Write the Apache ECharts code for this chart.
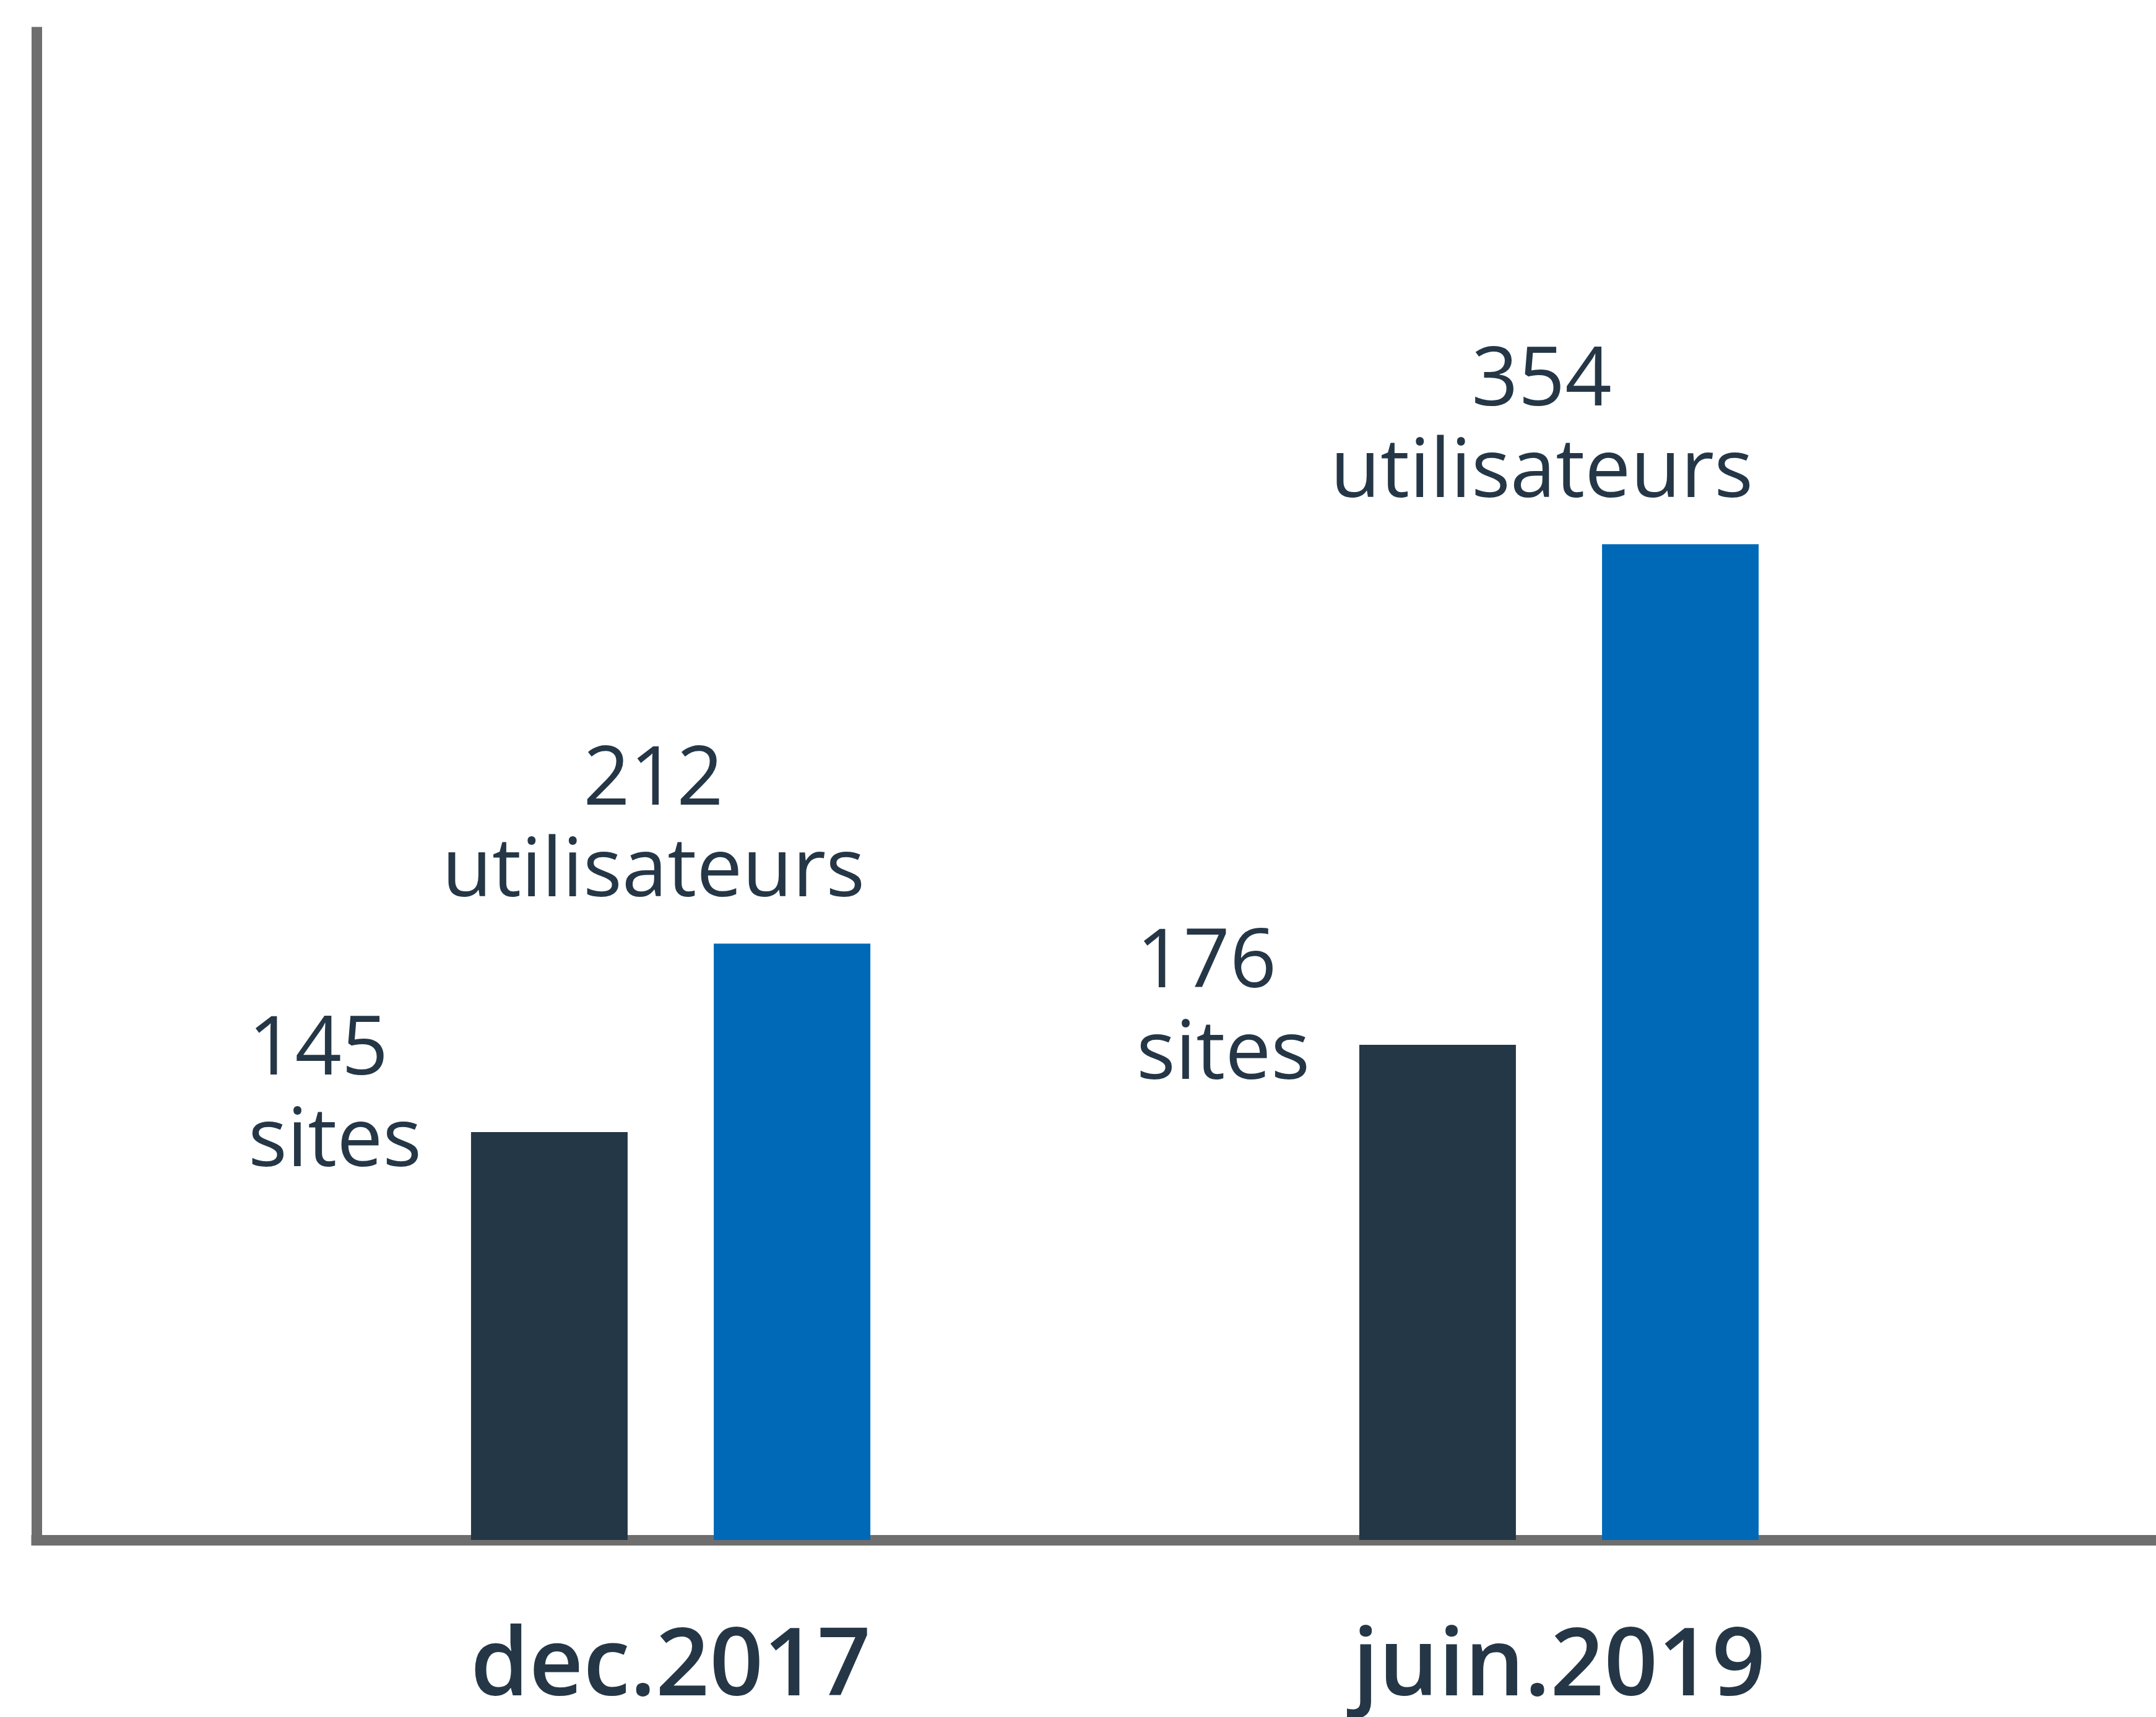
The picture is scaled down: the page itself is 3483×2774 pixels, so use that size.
<!DOCTYPE html>
<html>
<head>
<meta charset="utf-8">
<script src="https://cdn.jsdelivr.net/npm/echarts@6/dist/echarts.min.js"></script>
<style>
    html, body { margin: 0; padding: 0; background: #ffffff; }
    #chart { width: 3483px; height: 2774px; }
</style>
</head>
<body>
<div id="chart"></div>
<script>
var periods = ['dec.2017', 'juin.2019'];
var sites = [145, 176];
var users = [212, 354];

var textColor = '#253746';
var font = "'Open Sans', sans-serif";

var myChart = echarts.init(document.getElementById('chart'));
var option = {
    backgroundColor: '#ffffff',
    animation: false,
    grid: [
        {left: 366, right: 247, top: 52, bottom: 286},   // barres
        {left: 59, right: 0, top: 52, bottom: 286}       // axes gris
    ],
    xAxis: [
        {
            type: 'category',
            gridIndex: 0,
            data: periods,
            axisLine: {show: false},
            axisTick: {show: false},
            axisLabel: {
                margin: 133,
                color: textColor,
                fontFamily: font,
                fontWeight: 600,
                fontSize: 152,
                lineHeight: 150
            }
        },
        {
            type: 'value',
            gridIndex: 1,
            min: 0,
            max: 1,
            axisLine: {show: true, lineStyle: {color: '#6e6e6e', width: 17, cap: 'square'}},
            axisTick: {show: false},
            axisLabel: {show: false},
            splitLine: {show: false}
        }
    ],
    yAxis: [
        {
            type: 'value',
            gridIndex: 0,
            min: 0,
            max: 536,
            show: false
        },
        {
            type: 'value',
            gridIndex: 1,
            min: 0,
            max: 1,
            axisLine: {show: true, lineStyle: {color: '#6e6e6e', width: 17, cap: 'square'}},
            axisTick: {show: false},
            axisLabel: {show: false},
            splitLine: {show: false}
        }
    ],
    series: [
        {
            name: 'sites',
            type: 'bar',
            xAxisIndex: 0,
            yAxisIndex: 0,
            data: sites,
            barWidth: 253,
            barGap: '55%',
            itemStyle: {color: '#243746'},
            label: {
                show: true,
                position: [-360, -205],
                align: 'left',
                verticalAlign: 'top',
                formatter: '{c}\nsites',
                color: textColor,
                fontFamily: font,
                fontSize: 132,
                lineHeight: 148
            }
        },
        {
            name: 'utilisateurs',
            type: 'bar',
            xAxisIndex: 0,
            yAxisIndex: 0,
            data: users,
            barWidth: 253,
            itemStyle: {color: '#0069b7'},
            label: {
                show: true,
                position: 'top',
                distance: 40,
                offset: [-224, 0],
                align: 'center',
                formatter: '{c}\nutilisateurs',
                color: textColor,
                fontFamily: font,
                fontSize: 132,
                lineHeight: 148
            }
        }
    ]
};
myChart.setOption(option);
</script>
</body>
</html>
